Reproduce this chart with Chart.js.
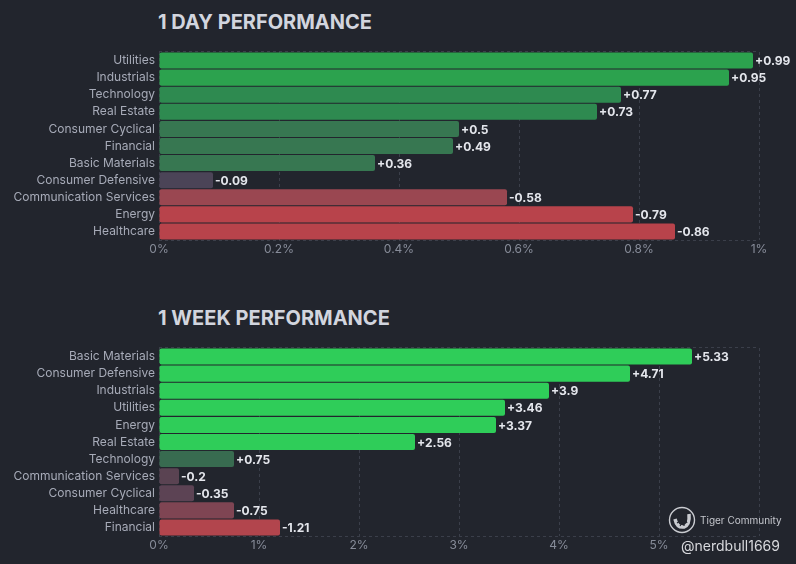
<!DOCTYPE html>
<html>
<head>
<meta charset="utf-8">
<script src="https://cdn.jsdelivr.net/npm/chart.js@4.4.1/dist/chart.umd.min.js"></script>
<style>
  html, body { margin: 0; padding: 0; background: #22252d; }
  #wrap { position: relative; width: 796px; height: 564px; overflow: hidden; font-family: Inter, "Noto Sans", sans-serif; }
  .title { position: absolute; left: 158px; margin: 0; font-size: 20px; font-weight: 700; color: #d2d5de; }
  canvas { position: absolute; left: 0; }
  #mark { position: absolute; left: 668px; top: 506px; color: #c9cbd0; }
  #mark .tc { position: absolute; left: 32px; top: 8px; font-size: 10px; white-space: nowrap; color: #c4c6cc; }
  #mark .nb { position: absolute; left: 13px; top: 31px; font-size: 14px; white-space: nowrap; color: #d8d9dd; }
</style>
</head>
<body>
<div id="wrap">
  <h2 class="title" style="top:10px;">1 DAY PERFORMANCE</h2>
  <canvas id="dayChart" width="796" height="282" style="top:0;"></canvas>
  <h2 class="title" style="top:306px;">1 WEEK PERFORMANCE</h2>
  <canvas id="weekChart" width="796" height="282" style="top:282px;"></canvas>
  <div id="mark">
    <svg width="28" height="28" viewBox="0 0 28 28">
      <circle cx="14" cy="14" r="12.5" fill="none" stroke="#c9cbd0" stroke-width="1.4"/>
      <path d="M7 13 Q9 22 16 21 Q22 19 21 8" fill="none" stroke="#c9cbd0" stroke-width="3.5"/>
      <path d="M9 17 L12 15 M12 20 L14 17 M16 20 L16 17 M19 17 L18 15" stroke="#22252d" stroke-width="1.2"/>
    </svg>
    <span class="tc">Tiger Community</span>
    <span class="nb">@nerdbull1669</span>
  </div>
</div>
<script>
// 1 day data (percent change)
const dayLabels = ['Utilities', 'Industrials', 'Technology', 'Real Estate', 'Consumer Cyclical', 'Financial',
  'Basic Materials', 'Consumer Defensive', 'Communication Services', 'Energy', 'Healthcare'];
const dayValues = [0.99, 0.95, 0.77, 0.73, 0.5, 0.49, 0.36, -0.09, -0.58, -0.79, -0.86];
const dayTicks = ['0%', '0.2%', '0.4%', '0.6%', '0.8%', '1%'];

// 1 week data (percent change)
const weekLabels = ['Basic Materials', 'Consumer Defensive', 'Industrials', 'Utilities', 'Energy', 'Real Estate',
  'Technology', 'Communication Services', 'Consumer Cyclical', 'Healthcare', 'Financial'];
const weekValues = [5.33, 4.71, 3.9, 3.46, 3.37, 2.56, 0.75, -0.2, -0.35, -0.75, -1.21];
const weekTicks = ['0%', '1%', '2%', '3%', '4%', '5%', ''];

// bar shades, one per row
const dayColors = ['#2ca24e', '#2ca24e', '#2e8a50', '#2e8a50', '#377751', '#377751', '#377751',
  '#4b4457', '#9a4751', '#b8434b', '#b8434b'];
const weekColors = ['#2fcd59', '#2fcd59', '#2fcd59', '#2fcd59', '#2fcd59', '#2fcd59',
  '#386b50', '#5a4352', '#5c4354', '#7f4553', '#b2454d'];

const fmt = v => (v > 0 ? '+' : '') + v;

// value text at the end of each bar
const valueLabels = {
  id: 'valueLabels',
  afterDatasetsDraw(chart) {
    const ctx = chart.ctx;
    const vals = chart.data.datasets[0].raw;
    ctx.save();
    ctx.font = 'bold 12px Inter, "Noto Sans", sans-serif';
    ctx.fillStyle = '#e4e6ec';
    ctx.textBaseline = 'middle';
    ctx.textAlign = 'left';
    chart.getDatasetMeta(0).data.forEach((bar, i) => {
      ctx.fillText(fmt(vals[i]), bar.x + 2, bar.y + 1);
    });
    ctx.restore();
  }
};

// dashed top and bottom edges of the plot area
const frame = {
  id: 'frame',
  beforeDatasetsDraw(chart) {
    const { ctx, chartArea: a } = chart;
    ctx.save();
    ctx.strokeStyle = '#3b3f4a';
    ctx.lineWidth = 1;
    ctx.setLineDash([3, 3]);
    ctx.beginPath();
    ctx.moveTo(a.left, a.top - 0.5); ctx.lineTo(a.right, a.top - 0.5);
    ctx.moveTo(a.left, a.bottom + 0.5); ctx.lineTo(a.right, a.bottom + 0.5);
    ctx.stroke();
    ctx.restore();
  }
};

function makeChart(id, labels, values, colors, ticks, max, step, padTop, padBottom) {
  return new Chart(document.getElementById(id), {
    type: 'bar',
    data: {
      labels: labels,
      datasets: [{
        data: values.map(v => Math.abs(v)),
        raw: values,
        backgroundColor: colors,
        borderRadius: 2,
        borderSkipped: false,
        barPercentage: 0.94,
        categoryPercentage: 1
      }]
    },
    options: {
      indexAxis: 'y',
      responsive: false,
      animation: false,
      layout: { padding: { top: padTop, bottom: padBottom, right: 37, left: 0 } },
      plugins: { legend: { display: false }, tooltip: { enabled: false } },
      scales: {
        x: {
          min: 0, max: max,
          ticks: {
            stepSize: step,
            color: '#878c99',
            font: { size: 12, family: 'Inter, "Noto Sans", sans-serif' },
            padding: 2,
            callback: (v, i) => ticks[i]
          },
          grid: { color: '#3b3f4a', drawTicks: false },
          border: { display: false, dash: [3, 3] },
          afterFit: s => { s.height = 16; }
        },
        y: {
          ticks: {
            color: '#a7abb8',
            font: { size: 12, family: 'Inter, "Noto Sans", sans-serif' },
            padding: 4,
            autoSkip: false
          },
          grid: { display: false, drawTicks: false },
          border: { display: false },
          afterFit: s => { s.width = 159; }
        }
      }
    },
    plugins: [frame, valueLabels]
  });
}

const dayChart = makeChart('dayChart', dayLabels, dayValues, dayColors, dayTicks, 1, 0.2, 52, 26);
const weekChart = makeChart('weekChart', weekLabels, weekValues, weekColors, weekTicks, 6, 1, 66, 12);
</script>
</body>
</html>
